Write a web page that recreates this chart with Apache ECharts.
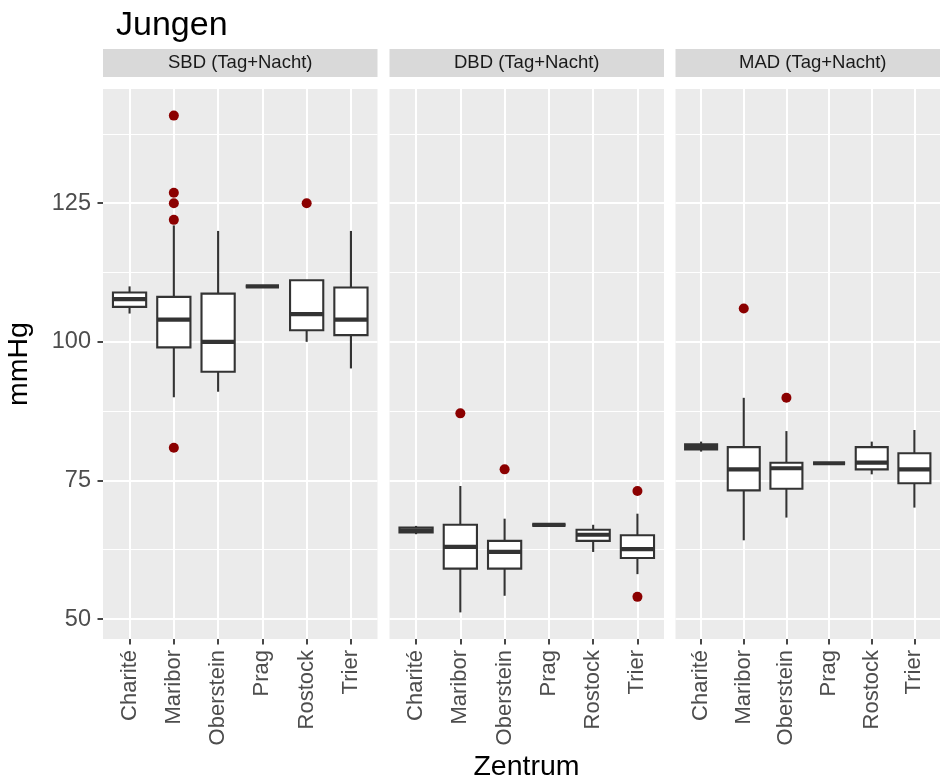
<!DOCTYPE html>
<html>
<head>
<meta charset="utf-8">
<script src="https://cdn.jsdelivr.net/npm/echarts@6/dist/echarts.min.js"></script>
<style>
  html, body { margin: 0; padding: 0; background: #ffffff; }
  #chart { width: 940px; height: 784px; }
</style>
</head>
<body>
<div id="chart"></div>
<script>
// Study centres (x categories) and the three blood-pressure facets
const centres = ['Charité', 'Maribor', 'Oberstein', 'Prag', 'Rostock', 'Trier'];
const facets = ['SBD (Tag+Nacht)', 'DBD (Tag+Nacht)', 'MAD (Tag+Nacht)'];

// Box statistics per centre: [lower whisker, Q1, median, Q3, upper whisker]
const sbdBoxes = [
  [105.1, 106.3, 107.7, 108.9, 110.0],
  [90.0, 99.0, 104.0, 108.1, 121.0],
  [91.0, 94.6, 100.0, 108.7, 120.0],
  [110.0, 110.0, 110.0, 110.0, 110.0],
  [100.0, 102.1, 105.0, 111.1, 111.1],
  [95.2, 101.2, 104.0, 109.8, 120.0]
];
const dbdBoxes = [
  [65.3, 65.6, 66.0, 66.5, 66.8],
  [51.2, 59.1, 63.0, 67.0, 74.0],
  [54.2, 59.1, 62.1, 64.1, 68.1],
  [67.0, 67.0, 67.0, 67.0, 67.0],
  [62.1, 64.1, 65.2, 66.1, 67.0],
  [58.1, 61.0, 62.6, 65.1, 69.0]
];
const madBoxes = [
  [80.2, 80.6, 81.0, 81.5, 82.0],
  [64.2, 73.2, 77.0, 81.0, 89.9],
  [68.3, 73.5, 77.2, 78.2, 83.9],
  [78.1, 78.1, 78.1, 78.1, 78.1],
  [76.1, 77.0, 78.2, 81.0, 82.0],
  [70.1, 74.5, 77.0, 79.9, 84.1]
];

// Outliers: [centre index, value]
const sbdOutliers = [[1, 140.8], [1, 126.9], [1, 125.0], [1, 122.0], [1, 80.9], [4, 125.0]];
const dbdOutliers = [[1, 87.1], [2, 77.0], [5, 73.1], [5, 54.0]];
const madOutliers = [[1, 106.0], [2, 89.9]];

// Value axis
const yMajorTicks = [50, 75, 100, 125];
const yMinorTicks = [62.5, 87.5, 112.5, 137.5];
const yMin = 46.4;
const yMax = 145.6;

const boxSets = [sbdBoxes, dbdBoxes, madBoxes];
const outlierSets = [sbdOutliers, dbdOutliers, madOutliers];

// Panel layout (pixels)
const FONT = '"Liberation Sans", Arial, Helvetica, sans-serif';
const panelLeft = [103, 389.5, 675.5];
const panelWidth = 274.5;
const panelTop = 89;
const panelHeight = 550;
const stripTop = 49;
const stripHeight = 28;
const centreIdx = centres.map((_, i) => i);

function renderBox(params, api) {
  const x = api.value(0);
  const lo = api.coord([x, api.value(1)]);
  const q1 = api.coord([x, api.value(2)]);
  const med = api.coord([x, api.value(3)]);
  const q3 = api.coord([x, api.value(4)]);
  const hi = api.coord([x, api.value(5)]);
  const half = api.size([0.75, 0])[0] / 2;
  const cx = lo[0];
  const edge = { stroke: '#333333', lineWidth: 2.1, fill: null };
  return {
    type: 'group',
    children: [
      { type: 'line', shape: { x1: cx, y1: hi[1], x2: cx, y2: q3[1] }, style: edge },
      { type: 'line', shape: { x1: cx, y1: q1[1], x2: cx, y2: lo[1] }, style: edge },
      { type: 'rect', shape: { x: cx - half, y: q3[1], width: 2 * half, height: q1[1] - q3[1] },
        style: { fill: '#ffffff', stroke: '#333333', lineWidth: 2.1 } },
      { type: 'line', shape: { x1: cx - half, y1: med[1], x2: cx + half, y2: med[1] },
        style: { stroke: '#333333', lineWidth: 4.2 } }
    ]
  };
}

const grids = [], xAxes = [], yAxes = [], series = [], graphics = [];

facets.forEach((name, i) => {
  grids.push({
    left: panelLeft[i], top: panelTop, width: panelWidth, height: panelHeight,
    show: true, backgroundColor: '#EBEBEB', borderWidth: 0
  });
  xAxes.push({
    type: 'value', gridIndex: i, min: -0.6, max: 5.6,
    axisLine: { show: false, onZero: false },
    axisTick: { show: true, customValues: centreIdx, length: 5.5, lineStyle: { color: '#333333', width: 1.8 } },
    axisLabel: {
      show: true, customValues: centreIdx, formatter: v => centres[Math.round(v)],
      rotate: 90, margin: 11, fontSize: 22, color: '#4D4D4D', fontFamily: FONT
    },
    splitLine: { show: true, lineStyle: { color: '#ffffff', width: 2 } }
  });
  // major horizontal grid + tick labels
  yAxes.push({
    type: 'value', gridIndex: i, min: yMin, max: yMax, position: 'left',
    axisLine: { show: false, onZero: false },
    axisTick: { show: i === 0, customValues: yMajorTicks, length: 5.5, lineStyle: { color: '#333333', width: 1.8 } },
    axisLabel: { show: i === 0, customValues: yMajorTicks, margin: 12, fontSize: 23.5, color: '#4D4D4D', fontFamily: FONT },
    splitLine: { show: true, lineStyle: { color: '#ffffff', width: 2 } }
  });
  // minor horizontal grid
  yAxes.push({
    type: 'value', gridIndex: i, min: yMin, max: yMax, position: 'right',
    axisLine: { show: false, onZero: false },
    axisTick: { show: false, customValues: yMinorTicks },
    axisLabel: { show: false, customValues: yMinorTicks },
    splitLine: { show: true, lineStyle: { color: '#ffffff', width: 1 } }
  });

  series.push({
    type: 'custom', name: name, xAxisIndex: i, yAxisIndex: 2 * i,
    renderItem: renderBox,
    encode: { x: 0, y: [1, 2, 3, 4, 5] },
    data: boxSets[i].map((b, k) => [k].concat(b)),
    z: 3, silent: true
  });
  series.push({
    type: 'scatter', name: name + ' Ausreißer', xAxisIndex: i, yAxisIndex: 2 * i,
    data: outlierSets[i], symbol: 'circle', symbolSize: 10,
    itemStyle: { color: '#8B0000', opacity: 1 }, z: 4, silent: true
  });

  // facet strip
  graphics.push({
    type: 'rect', shape: { x: panelLeft[i], y: stripTop, width: panelWidth, height: stripHeight },
    style: { fill: '#D9D9D9' }, silent: true
  });
  graphics.push({
    type: 'text', x: panelLeft[i] + panelWidth / 2, y: stripTop + stripHeight / 2,
    style: { text: name, fill: '#1A1A1A', font: '18.5px ' + FONT, textAlign: 'center', textVerticalAlign: 'middle' },
    silent: true
  });
});

// axis titles
graphics.push({
  type: 'text', x: (panelLeft[0] + panelLeft[2] + panelWidth) / 2, y: 767,
  style: { text: 'Zentrum', fill: '#000000', font: '28.5px ' + FONT, textAlign: 'center', textVerticalAlign: 'middle' },
  silent: true
});
graphics.push({
  type: 'text', x: 19, y: panelTop + panelHeight / 2, rotation: Math.PI / 2,
  style: { text: 'mmHg', fill: '#000000', font: '28.5px ' + FONT, textAlign: 'center', textVerticalAlign: 'middle' },
  silent: true
});
graphics.push({
  type: 'text', x: 116, y: 26,
  style: { text: 'Jungen', fill: '#000000', font: '34px ' + FONT, textAlign: 'left', textVerticalAlign: 'middle' },
  silent: true
});

const chart = echarts.init(document.getElementById('chart'), null, { renderer: 'canvas' });
chart.setOption({
  animation: false,
  backgroundColor: '#ffffff',
  grid: grids,
  xAxis: xAxes,
  yAxis: yAxes,
  series: series,
  graphic: graphics
});
</script>
</body>
</html>
